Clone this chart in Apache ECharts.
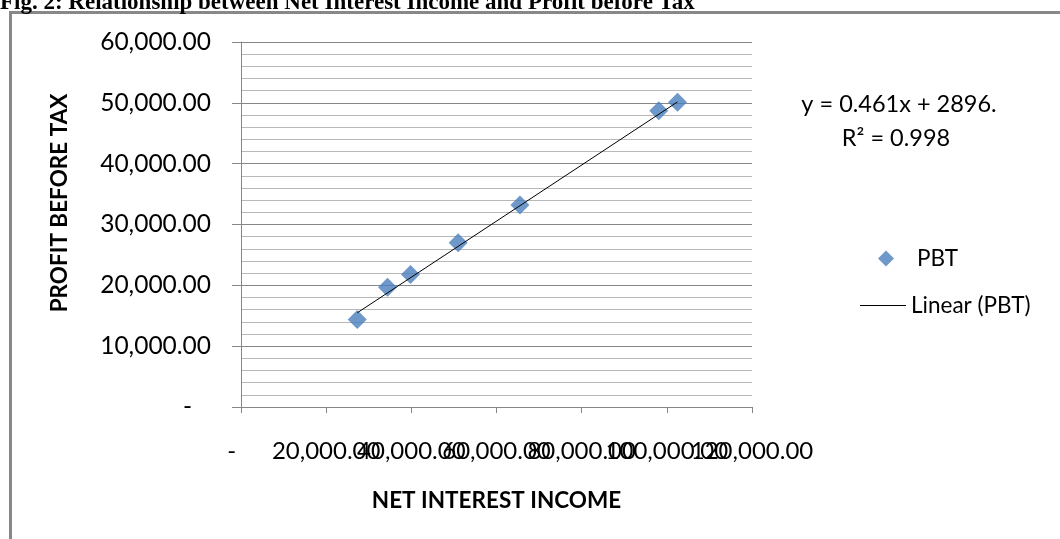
<!DOCTYPE html>
<html>
<head>
<meta charset="utf-8">
<script src="https://cdn.jsdelivr.net/npm/echarts@6/dist/echarts.min.js"></script>
<style>
html,body{margin:0;padding:0;background:#fff;}
#c{width:1060px;height:539px;}
</style>
</head>
<body>
<div id="c"></div>
<script>
// Data
var netInterestIncome = [27300, 34400, 39800, 51000, 65500, 98100, 102500];
var profitBeforeTax   = [14400, 19700, 21800, 27000, 33200, 48700, 50100];
// Trendline as printed on the chart: y = 0.461x + 2896
var trendSlope = 0.461;
var trendIntercept = 2896;
var xTicks = [0, 20000, 40000, 60000, 80000, 100000, 120000];
var yTicks = [0, 10000, 20000, 30000, 40000, 50000, 60000];

var titleText = 'Fig. 2: Relationship between Net Interest Income and Profit before Tax';
var xTitle = 'NET INTEREST INCOME';
var yTitle = 'PROFIT BEFORE TAX';
var eqText = 'y = 0.461x + 2896.';
var r2Text = 'R\u00B2 = 0.998';

var FONT = 'Lato, "Open Sans", sans-serif';

var xMin = xTicks[0], xMax = xTicks[xTicks.length - 1];

function fmt(v) {
  if (v === 0) return '-   ';
  return v.toLocaleString('en-US', {minimumFractionDigits: 2, maximumFractionDigits: 2});
}
// main x axis: every label except the last (drawn by an overlay axis so ECharts does not hide one of the overlapping pair)
function fmtXMain(v) { return v === xMax ? '' : fmt(v); }
function fmtXLast(v) { return v === xMax ? fmt(v) : ''; }

var pts = netInterestIncome.map(function (x, i) { return [x, profitBeforeTax[i]]; });
var dmin = Math.min.apply(null, netInterestIncome);
var dmax = Math.max.apply(null, netInterestIncome);
var trend = [[dmin, trendSlope * dmin + trendIntercept], [dmax, trendSlope * dmax + trendIntercept]];

var xLabelStyle = {margin: 32, color: '#000', fontSize: 24, fontFamily: FONT, hideOverlap: false};

var chart = echarts.init(document.getElementById('c'), null, {renderer: 'canvas'});
chart.setOption({
  animation: false,
  backgroundColor: '#fff',
  grid: {left: 241, right: 308, top: 42, bottom: 132, containLabel: false},
  xAxis: [{
    type: 'value', min: xMin, max: xMax, interval: 20000, position: 'bottom',
    axisLine: {show: true, lineStyle: {color: '#868686', width: 1}},
    axisTick: {show: true, inside: false, length: 6, lineStyle: {color: '#868686'}},
    splitLine: {show: false},
    axisLabel: Object.assign({formatter: fmtXMain}, xLabelStyle),
    name: xTitle, nameLocation: 'middle', nameGap: 82,
    nameTextStyle: {fontSize: 22.5, fontWeight: 'bold', color: '#000', fontFamily: FONT}
  }, {
    type: 'value', min: xMin, max: xMax, interval: 20000, position: 'bottom', offset: 0,
    axisLine: {show: false}, axisTick: {show: false}, splitLine: {show: false},
    axisLabel: Object.assign({formatter: fmtXLast}, xLabelStyle)
  }],
  yAxis: {
    type: 'value', min: yTicks[0], max: yTicks[yTicks.length - 1], interval: 10000,
    axisLine: {show: true, lineStyle: {color: '#868686', width: 1}},
    axisTick: {show: true, inside: false, length: 9, lineStyle: {color: '#868686'}},
    minorTick: {show: false, splitNumber: 5},
    splitLine: {show: true, lineStyle: {color: '#868686', width: 1}},
    minorSplitLine: {show: true, lineStyle: {color: '#b8b8b8', width: 1}},
    axisLabel: {formatter: fmt, margin: 30, color: '#000', fontSize: 24.5, fontFamily: FONT}
  },
  legend: [{
    data: [{name: 'PBT', icon: 'diamond'}],
    orient: 'vertical', left: 878, top: 247, padding: 0, itemWidth: 16, itemHeight: 16,
    textStyle: {fontSize: 22.5, color: '#000', fontFamily: FONT, padding: [0, 0, 0, 18]}
  }, {
    data: [{name: 'Linear (PBT)', icon: 'rect'}],
    orient: 'vertical', left: 860, top: 294, padding: 0, itemWidth: 46, itemHeight: 1,
    itemStyle: {color: '#000'},
    textStyle: {fontSize: 22.5, color: '#000', fontFamily: FONT}
  }],
  series: [{
    name: 'PBT', type: 'scatter', data: pts, xAxisIndex: 0,
    symbol: 'diamond', symbolSize: 19,
    itemStyle: {color: '#4A7EBB'}
  }, {
    name: 'Linear (PBT)', type: 'line', data: trend, xAxisIndex: 0,
    symbol: 'none', showSymbol: false,
    lineStyle: {color: '#000', width: 1},
    itemStyle: {color: '#000'}
  }],
  graphic: [{
    type: 'polyline', silent: true,
    shape: {points: [[10.5, 539], [10.5, 12.5], [1060, 12.5]]},
    style: {stroke: '#888', lineWidth: 3, fill: null}
  }, {
    type: 'text', left: 0, top: -8,
    style: {text: titleText, font: 'bold 23px "Liberation Serif", "Times New Roman", serif', fill: '#000'}
  }, {
    type: 'text', x: 60, y: 203, rotation: Math.PI / 2,
    style: {text: yTitle, font: 'bold 22.5px ' + FONT, fill: '#000', textAlign: 'center', textVerticalAlign: 'middle'}
  }, {
    type: 'text', x: 899, y: 104,
    style: {text: eqText, font: '23.5px ' + FONT, fill: '#000', textAlign: 'center', textVerticalAlign: 'middle'}
  }, {
    type: 'text', x: 896, y: 138,
    style: {text: r2Text, font: '23.5px ' + FONT, fill: '#000', textAlign: 'center', textVerticalAlign: 'middle'}
  }]
});
</script>
</body>
</html>
